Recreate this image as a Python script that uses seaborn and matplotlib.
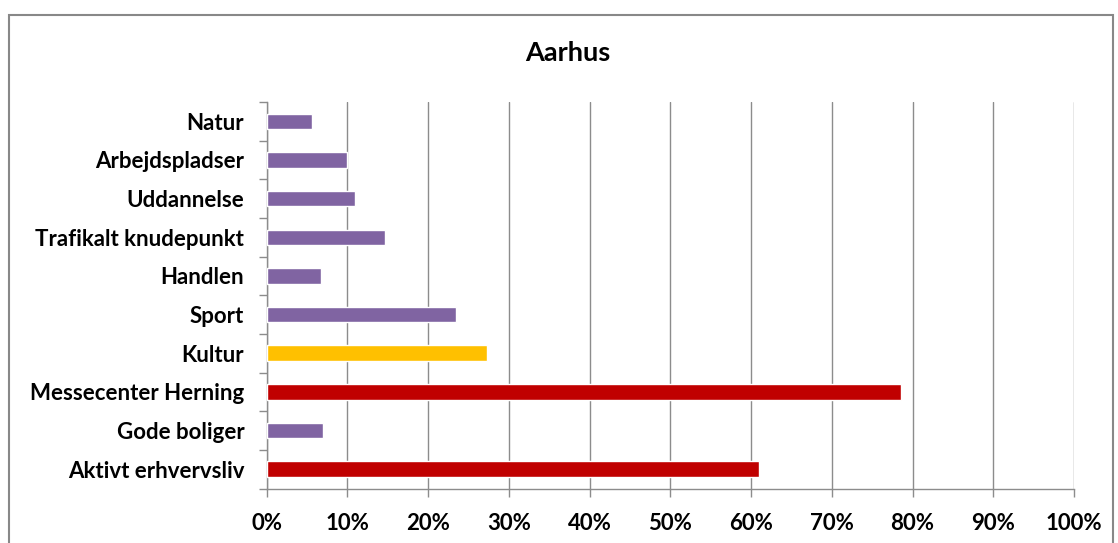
import matplotlib
matplotlib.use("Agg")
import matplotlib.pyplot as plt
import seaborn as sns
import pandas as pd
import numpy as np
from matplotlib.patches import Rectangle
from matplotlib.ticker import PercentFormatter, FixedLocator

categories = ["Natur", "Arbejdspladser", "Uddannelse", "Trafikalt knudepunkt", "Handlen",
              "Sport", "Kultur", "Messecenter Herning", "Gode boliger", "Aktivt erhvervsliv"]
values = [5.6, 10.0, 10.9, 14.7, 6.7, 23.5, 27.3, 78.6, 7.0, 61.0]
bar_colors = ["#8064A2", "#8064A2", "#8064A2", "#8064A2", "#8064A2",
              "#8064A2", "#FFC000", "#C00000", "#8064A2", "#C00000"]
xticks = [0, 10, 20, 30, 40, 50, 60, 70, 80, 90, 100]
title = "Aarhus"

sns.set_theme(style="white")
plt.rcParams['font.family'] = ['Lato', 'DejaVu Sans']

df = pd.DataFrame({"cat": categories, "val": values})

fig = plt.figure(figsize=(11.18, 5.43), dpi=100)
ax = fig.add_axes([266.5/1118, 1 - 488.5/543, (1074 - 266.5)/1118, (488.5 - 102)/543])

sns.barplot(data=df, y="cat", x="val", hue="cat", palette=bar_colors, legend=False,
            orient="h", width=0.4, ax=ax, saturation=1, zorder=3)

ax.set_xlim(0, 100)
ax.set_ylim(len(categories) - 0.5, -0.5)
ax.set_xticks(xticks)
ax.xaxis.set_major_formatter(PercentFormatter(decimals=0))
ax.grid(axis="x", color="#8c8c8c", linewidth=1.0, zorder=0)
ax.set_axisbelow(True)
ax.set_xlabel("")
ax.set_ylabel("")

for s in ["top", "right"]:
    ax.spines[s].set_visible(False)
for s in ["left", "bottom"]:
    ax.spines[s].set_visible(True)
    ax.spines[s].set_color("#8c8c8c")
    ax.spines[s].set_linewidth(1.0)

ax.tick_params(axis="x", which="major", length=6, color="#8c8c8c", width=1,
               labelsize=16, pad=12, direction="out", bottom=True)
ax.tick_params(axis="y", which="major", length=0, labelsize=16, pad=16, left=False)
ax.yaxis.set_minor_locator(FixedLocator(np.arange(-0.5, len(categories), 1.0)))
ax.tick_params(axis="y", which="minor", length=6, color="#8c8c8c", width=1, left=True)
for lab in ax.get_xticklabels() + ax.get_yticklabels():
    lab.set_fontweight("bold")
    lab.set_color("black")

fig.text(568/1118, 1 - 53/543, title, ha="center", va="center",
         fontsize=19.5, fontweight="bold", color="black")

fig.patches.append(Rectangle((9/1118, -0.05), (1113 - 9)/1118, 1.05 - 15/543,
                             transform=fig.transFigure, fill=False,
                             edgecolor="#888888", linewidth=1.5, zorder=10))

fig.savefig("out.png", dpi=100)
